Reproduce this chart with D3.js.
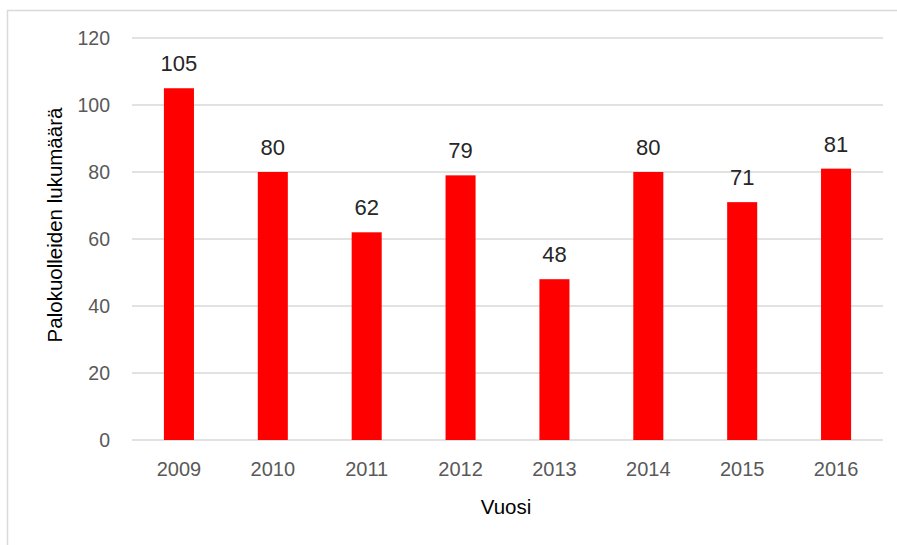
<!DOCTYPE html>
<html>
<head>
<meta charset="utf-8">
<script src="https://cdn.jsdelivr.net/npm/d3@7"></script>
<style>
  body { margin: 0; background: #fff; }
  svg text { font-family: "Liberation Sans", Arial, sans-serif; }
</style>
</head>
<body>
<script>
// data
var years = ["2009", "2010", "2011", "2012", "2013", "2014", "2015", "2016"];
var deaths = [105, 80, 62, 79, 48, 80, 71, 81];
var y_ticks = [0, 20, 40, 60, 80, 100, 120];

var width = 897, height = 545;
var margin = {top: 38, right: 14, bottom: 105, left: 132};

var svg = d3.select("body").append("svg")
    .attr("width", width)
    .attr("height", height);

// chart frame (runs off the right and bottom edge)
svg.append("rect")
    .attr("x", 7.5).attr("y", 10.5)
    .attr("width", width + 10).attr("height", height + 10)
    .attr("fill", "none")
    .attr("stroke", "#d9d9d9")
    .attr("stroke-width", 1.5);

var x = d3.scaleBand()
    .domain(years)
    .range([margin.left, width - margin.right])
    .paddingInner(0.68)
    .paddingOuter(0.34);

var y = d3.scaleLinear()
    .domain([0, 120])
    .range([height - margin.bottom, margin.top]);

// gridlines
svg.append("g")
    .selectAll("line")
    .data(y_ticks)
    .enter().append("line")
    .attr("x1", margin.left)
    .attr("x2", width - margin.right)
    .attr("y1", function(d) { return y(d); })
    .attr("y2", function(d) { return y(d); })
    .attr("stroke", "#d9d9d9")
    .attr("stroke-width", 1.5);

// y axis labels
var yAxis = svg.append("g")
    .attr("transform", "translate(" + (margin.left - 22) + ",0)")
    .call(d3.axisLeft(y).tickValues(y_ticks).tickSize(0).tickPadding(0));
yAxis.select(".domain").remove();
yAxis.selectAll("text")
    .attr("fill", "#595959")
    .style("font-size", "19.5px");

// x axis labels
var xAxis = svg.append("g")
    .attr("transform", "translate(0," + y(0) + ")")
    .call(d3.axisBottom(x).tickSize(0).tickPadding(22));
xAxis.select(".domain").remove();
xAxis.selectAll("text")
    .attr("fill", "#595959")
    .style("font-size", "20px");

// bars
svg.append("g")
    .selectAll("rect")
    .data(deaths)
    .enter().append("rect")
    .attr("x", function(d, i) { return x(years[i]); })
    .attr("y", function(d) { return y(d); })
    .attr("width", x.bandwidth())
    .attr("height", function(d) { return y(0) - y(d); })
    .attr("fill", "#ff0000");

// value labels
svg.append("g")
    .selectAll("text")
    .data(deaths)
    .enter().append("text")
    .attr("x", function(d, i) { return x(years[i]) + x.bandwidth() / 2; })
    .attr("y", function(d) { return y(d) - 17; })
    .attr("text-anchor", "middle")
    .attr("fill", "#262626")
    .style("font-size", "22px")
    .text(function(d) { return d; });

// axis titles
svg.append("text")
    .attr("x", 506)
    .attr("y", 514)
    .attr("text-anchor", "middle")
    .attr("fill", "#000")
    .style("font-size", "20.5px")
    .text("Vuosi");

svg.append("text")
    .attr("transform", "translate(62,225) rotate(-90)")
    .attr("text-anchor", "middle")
    .attr("fill", "#000")
    .style("font-size", "20.5px")
    .text("Palokuolleiden lukumäärä");
</script>
</body>
</html>
